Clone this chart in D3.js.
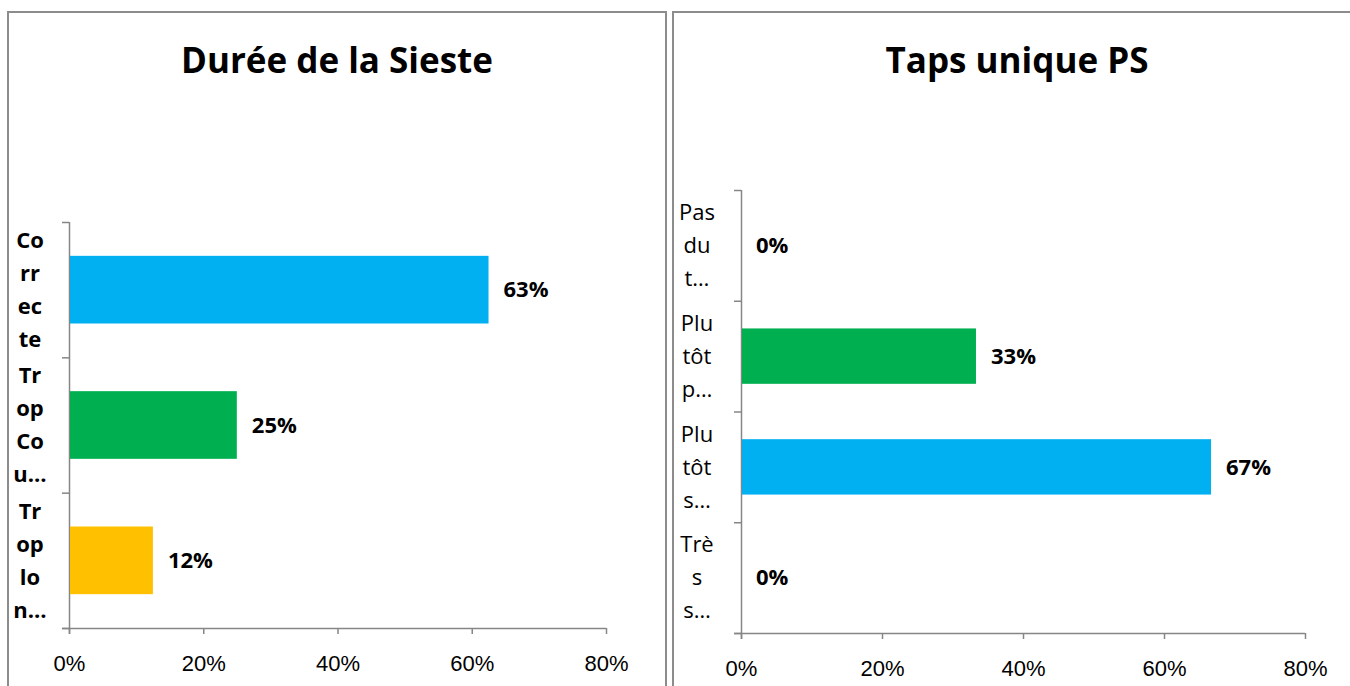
<!DOCTYPE html>
<html>
<head>
<meta charset="utf-8">
<script src="https://cdn.jsdelivr.net/npm/d3@7"></script>
<style>
  body { margin: 0; background: #fff; }
  svg { display: block; font-family: "Open Sans", "Liberation Sans", sans-serif; }
</style>
</head>
<body>
<svg id="chart" width="1350" height="686"></svg>
<script>
// --- data ---
var siesteCategories = ["Correcte", "Trop Court", "Trop long"];
var siesteLabels = [["Co", "rr", "ec", "te"], ["Tr", "op", "Co", "u…"], ["Tr", "op", "lo", "n…"]];
var siesteValues = [62.5, 25, 12.5];
var siesteValueText = ["63%", "25%", "12%"];
var siesteColors = ["#00B0F0", "#00B050", "#FFC000"];

var tapsCategories = ["Pas du tout", "Plutôt pas", "Plutôt satisfait", "Très satisfait"];
var tapsLabels = [["Pas", "du", "t…"], ["Plu", "tôt", "p…"], ["Plu", "tôt", "s…"], ["Trè", "s", "s…"]];
var tapsValues = [0, 33.33, 66.67, 0];
var tapsValueText = ["0%", "33%", "67%", "0%"];
var tapsColors = ["#00B0F0", "#00B050", "#00B0F0", "#00B0F0"];

var xTicks = [0, 20, 40, 60, 80];

var svg = d3.select("#chart");
var axisColor = "#868686";

function drawPanel(p) {
  var g = svg.append("g");

  // panel frame (runs off the bottom / right of the picture)
  g.append("rect")
    .attr("x", p.box[0]).attr("y", p.box[1])
    .attr("width", p.box[2]).attr("height", p.box[3])
    .attr("fill", "none").attr("stroke", "#8c8c8c").attr("stroke-width", 2);

  g.append("text")
    .attr("x", p.titleX).attr("y", 73)
    .attr("text-anchor", "middle")
    .style("font-size", "35px").style("font-weight", "bold")
    .text(p.title);

  var x = d3.scaleLinear().domain([0, 80]).range([p.left, p.right]);
  var y = d3.scaleBand().domain(p.categories)
    .range([p.top, p.bottom]).paddingInner(0.5).paddingOuter(0.25);
  var n = p.categories.length;
  var yEdge = d3.scaleLinear().domain([0, n]).range([p.top, p.bottom]);

  // x axis
  var xa = g.append("g")
    .attr("transform", "translate(0," + p.bottom + ")")
    .call(d3.axisBottom(x).tickValues(xTicks)
      .tickFormat(function(d) { return d + "%"; })
      .tickSizeInner(6).tickSizeOuter(0).tickPadding(21));
  xa.select(".domain").attr("stroke", axisColor).attr("stroke-width", 1.5)
    .attr("d", "M" + (p.left - 7) + ",0.5H" + p.right);
  xa.selectAll(".tick line").attr("stroke", axisColor).attr("stroke-width", 1.5);
  xa.selectAll(".tick text").style("font-size", "22px").attr("fill", "#000");

  // y axis: ticks at category boundaries
  var ya = g.append("g")
    .attr("transform", "translate(" + p.left + ",0)")
    .call(d3.axisLeft(yEdge).tickValues(d3.range(n + 1))
      .tickFormat("").tickSizeInner(7).tickSizeOuter(0));
  ya.select(".domain").attr("stroke", axisColor).attr("stroke-width", 1.5)
    .attr("d", "M0.5," + p.top + "V" + (p.bottom + 6));
  ya.selectAll(".tick line").attr("stroke", axisColor).attr("stroke-width", 1.5);

  // category labels, wrapped like the original
  var lab = g.selectAll(".cat").data(p.categories).enter().append("text")
    .attr("class", "cat")
    .attr("text-anchor", "middle")
    .style("font-size", "22px")
    .style("font-weight", p.boldLabels ? "bold" : "normal");
  lab.each(function(d, i) {
    var lines = p.labels[i];
    var cy = y(d) + y.bandwidth() / 2;
    var lh = 33;
    var y0 = cy - (lines.length - 1) * lh / 2;
    d3.select(this).selectAll("tspan").data(lines).enter().append("tspan")
      .attr("x", p.labelX)
      .attr("y", function(t, j) { return y0 + j * lh; })
      .attr("dy", "0.35em")
      .text(function(t) { return t; });
  });

  // bars
  g.selectAll(".bar").data(p.categories).enter().append("rect")
    .attr("class", "bar")
    .attr("x", x(0) + 1)
    .attr("y", function(d) { return y(d); })
    .attr("height", y.bandwidth())
    .attr("width", function(d, i) { return Math.max(0, x(p.values[i]) - x(0) - 1); })
    .attr("fill", function(d, i) { return p.colors[i]; });

  // value labels
  g.selectAll(".val").data(p.categories).enter().append("text")
    .attr("class", "val")
    .attr("x", function(d, i) { return x(p.values[i]) + 15; })
    .attr("y", function(d) { return y(d) + y.bandwidth() / 2; })
    .attr("dy", "0.35em")
    .style("font-size", "22px").style("font-weight", "bold")
    .text(function(d, i) { return p.valueText[i]; });
}

drawPanel({
  title: "Durée de la Sieste", titleX: 337,
  box: [8, 12, 658, 700],
  left: 69, right: 606, top: 222, bottom: 628,
  labelX: 30, boldLabels: true,
  categories: siesteCategories, labels: siesteLabels,
  values: siesteValues, valueText: siesteValueText, colors: siesteColors
});

drawPanel({
  title: "Taps unique PS", titleX: 1017,
  box: [673, 12, 700, 700],
  left: 741, right: 1305, top: 190, bottom: 633,
  labelX: 697, boldLabels: false,
  categories: tapsCategories, labels: tapsLabels,
  values: tapsValues, valueText: tapsValueText, colors: tapsColors
});
</script>
</body>
</html>
